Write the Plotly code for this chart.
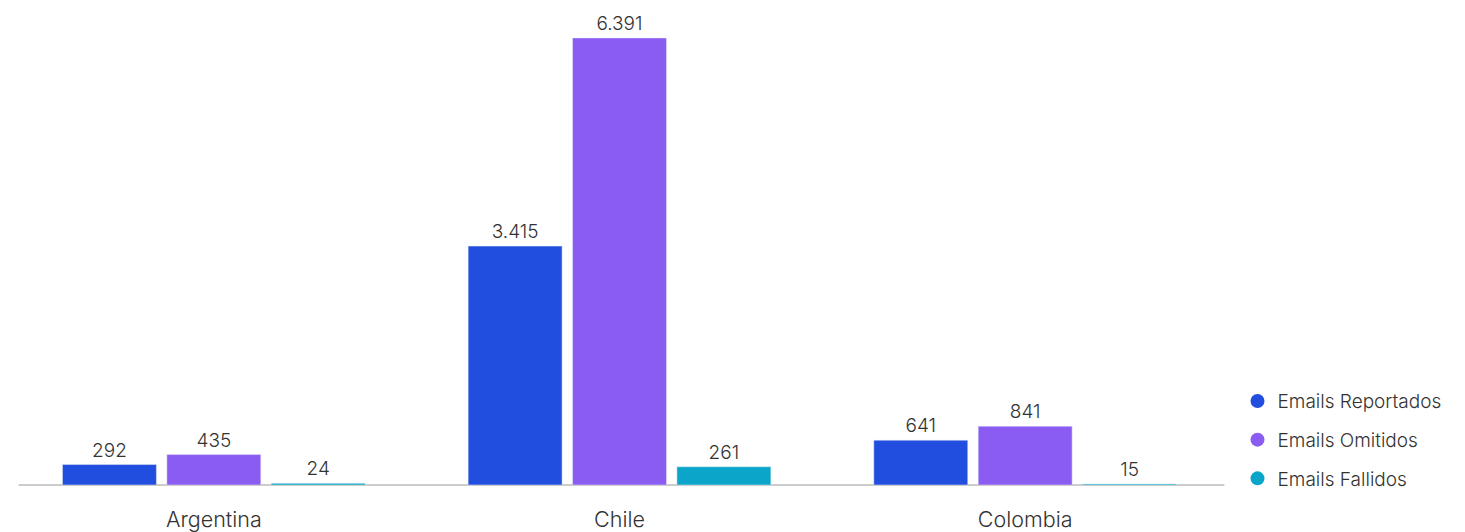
import plotly.graph_objects as go

countries = ["Argentina", "Chile", "Colombia"]
series_names = ["Emails Reportados", "Emails Omitidos", "Emails Fallidos"]
reportados = [292, 3415, 641]
omitidos = [435, 6391, 841]
fallidos = [24, 261, 15]
colors = ["#224EDF", "#8B5CF1", "#0AA5C8"]

FONT = "Inter, Roboto, sans-serif"
fig = go.Figure()
for name, vals, col in zip(series_names, [reportados, omitidos, fallidos], colors):
    fig.add_trace(go.Bar(
        x=countries, y=vals, name=name, marker_color=col, showlegend=False,
        texttemplate="%{y:,}", textposition="outside", cliponaxis=False,
        textfont=dict(size=19, color="#333333", family=FONT, weight=300),
    ))
for name, col in zip(series_names, colors):
    fig.add_trace(go.Scatter(
        x=[None], y=[None], mode="markers", name=name, legendgroup=name,
        marker=dict(symbol="circle", size=14, color=col),
    ))

fig.add_shape(type="line", xref="paper", yref="paper", x0=0.0062, x1=0.997, y0=0, y1=0,
              line=dict(color="#cccccc", width=2), layer="below")

fig.update_layout(
    width=1465, height=532,
    margin=dict(l=2.5, r=244.5, t=10, b=55, autoexpand=False),
    paper_bgcolor="white", plot_bgcolor="white",
    separators=",.",
    barmode="group", bargap=0.228, bargroupgap=0.1,
    font=dict(family=FONT, color="#333333"),
    legend=dict(x=1.0078, xanchor="left", y=-0.028, yanchor="bottom",
                font=dict(size=19, color="#333333", family=FONT, weight=300),
                tracegroupgap=11, itemwidth=30),
    xaxis=dict(showline=False, showgrid=False, zeroline=False,
               automargin=False,
               ticks="", tickfont=dict(size=21.5, color="#333333", family=FONT, weight=300),
               ticklabelstandoff=19),
    yaxis=dict(visible=False, range=[0, 6676], showgrid=False, zeroline=False,
               automargin=False),
)
fig.write_html("out.html")
